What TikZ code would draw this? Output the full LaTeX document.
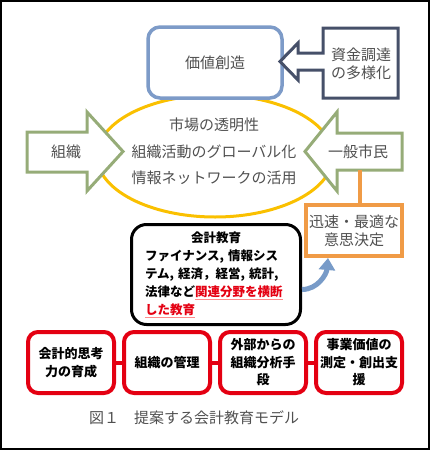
\documentclass[tikz,border=0pt]{standalone}
\usepackage{fontspec}
\setmainfont{Noto Sans CJK JP}
\usetikzlibrary{arrows.meta,positioning}
\definecolor{boxblue}{RGB}{125,155,200}
\definecolor{navygray}{RGB}{70,80,105}
\definecolor{goldyellow}{RGB}{250,192,0}
\definecolor{sagegreen}{RGB}{150,172,120}
\definecolor{softorange}{RGB}{240,155,70}
\definecolor{deepred}{RGB}{228,0,18}
\definecolor{textgray}{RGB}{80,80,80}
\definecolor{arrowblue}{RGB}{120,155,200}
\tikzset{
  plain/.style={font=\fontsize{15}{18}\selectfont, text=textgray, align=center},
  valuebox/.style={plain, rectangle, rounded corners=12pt, draw=boxblue, line width=3.5pt,
                   fill=white, minimum width=134pt, minimum height=71pt},
  blockarrow/.style={line width=3pt, fill=white, line join=miter},
  decisionbox/.style={plain, rectangle, draw=softorange, line width=4pt, fill=white,
                      minimum width=90pt, minimum height=51pt},
  edubox/.style={rectangle, rounded corners=15pt, draw=black, line width=3pt, fill=white,
                 minimum width=169pt, minimum height=100pt, text width=142pt, align=left,
                 font=\fontsize{12.5}{18}\selectfont\bfseries},
  skillbox/.style={rectangle, rounded corners=10pt, draw=deepred, line width=4pt, fill=white,
                   minimum width=86pt, minimum height=61pt, align=center, inner sep=2pt,
                   font=\fontsize{13}{17.5}\selectfont\bfseries},
  redlink/.style={draw=deepred, line width=4pt},
  curvearrow/.style={-{Triangle[width=16pt,length=12pt]}, line width=5pt, arrowblue},
}
\newcommand{\redline}[1]{{\color{red!45}\underline{\textcolor{deepred}{#1}}}}

\begin{document}
\begin{tikzpicture}[x=1pt,y=-1pt]
\useasboundingbox (0,0) rectangle (430,450);
\draw[line width=1.2pt] (1,1) rectangle (429,449);

\draw[goldyellow, line width=3pt] (215,156) ellipse [x radius=118pt, y radius=61pt];
\node[plain] (market) at (214,125) {市場の透明性};
\node[plain] (global) at (214,152) {組織活動のグローバル化};
\node[plain] (network) at (214,178) {情報ネットワークの活用};

\node[valuebox] (value) at (215,62.5) {価値創造};

\draw[navygray, blockarrow] (323,28) -- (398,28) -- (398,98) -- (323,98) -- (323,70) -- (298,70)
  -- (298,80) -- (280,61.5) -- (298,43) -- (298,53) -- (323,53) -- cycle;
\node[plain] (funding) at (361,64) {資金調達\\の多様化};

\draw[sagegreen, blockarrow] (27,132) -- (87,132) -- (87,112) -- (123,151.5) -- (87,191)
  -- (87,172) -- (27,172) -- cycle;
\node[plain] (org) at (66,152) {組織};

\draw[sagegreen, blockarrow] (402,133) -- (337,133) -- (337,112) -- (305,151.5) -- (337,191)
  -- (337,170) -- (402,170) -- cycle;
\node[plain] (citizen) at (358,152) {一般市民};
\coordinate (citizenfoot) at (360,170);

\node[decisionbox] (decision) at (354,230.5) {迅速・最適な\\意思決定};
\draw[softorange, line width=4pt] (citizenfoot) -- (citizenfoot |- decision.north);

\node[edubox] (edu) at (216,274.5) {\centering 会計教育\par\raggedright
  ファイナンス, 情報シス\\テム, 経済，経営, 統計,\\法律など\redline{関連分野を横断}\\\redline{した教育}};
\draw[curvearrow] ([yshift=-15pt]edu.east) to[out=0,in=-95] ([xshift=-26pt]decision.south);

\node[skillbox] (think) at (71,362.5) {会計的思考\\力の育成};
\node[skillbox, right=6pt of think] (manage) {組織の管理};
\node[skillbox, right=6pt of manage] (analysis) {外部からの\\組織分析手\\段};
\node[skillbox, right=6pt of analysis] (support) {事業価値の\\測定・創出支\\援};
\foreach \a/\b in {think/manage, manage/analysis, analysis/support}
  \draw[redlink] (\a) -- (\b);

\node[plain] (caption) at (194,418) {図１　提案する会計教育モデル};
\end{tikzpicture}
\end{document}
